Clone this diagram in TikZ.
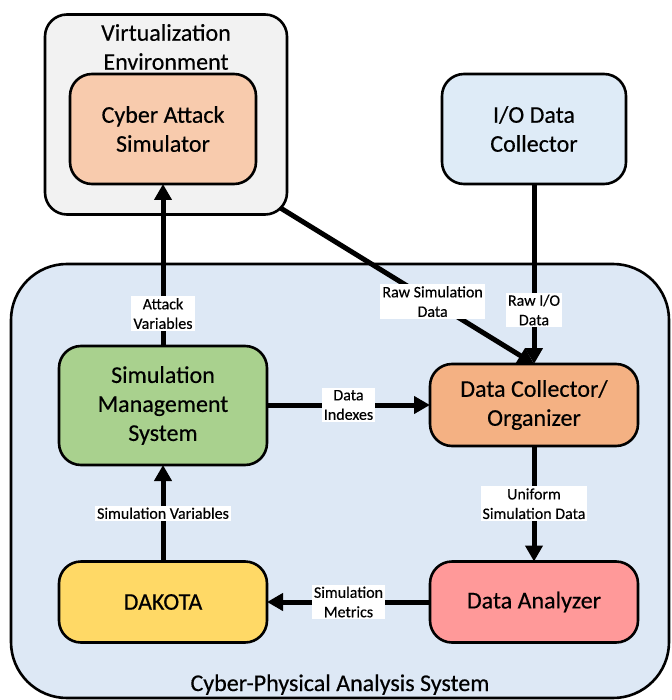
\documentclass[tikz,border=0pt]{standalone}
\usepackage{fontspec}
\setmainfont{Carlito}[UprightFeatures={FakeBold=0.35}]
\usetikzlibrary{arrows.meta,calc}

\definecolor{virtfill}{HTML}{F2F2F2}
\definecolor{casfill}{HTML}{F8CBAD}
\definecolor{iofill}{HTML}{DEEBF7}
\definecolor{bigfill}{HTML}{DDE8F5}
\definecolor{smsfill}{HTML}{A9D18E}
\definecolor{dcofill}{HTML}{F4B183}
\definecolor{dakfill}{HTML}{FFD966}
\definecolor{dafill}{HTML}{FF9999}

\tikzset{
  block/.style={draw=black, line width=2.6pt, rounded corners=22pt,
    align=center, inner sep=0pt, outer sep=0pt,
    font=\fontsize{24}{29}\selectfont},
  flow/.style={line width=5pt,
    -{Triangle[length=16pt,width=17pt]}},
  tag/.style={fill=white, inner sep=2pt, align=center,
    font=\fontsize{16}{19.5}\selectfont}
}

\begin{document}
\begin{tikzpicture}[x=1pt,y=-1pt]
\useasboundingbox (0,0) rectangle (671,700);

% outer containers
\node[block, fill=bigfill, rounded corners=56pt,
  minimum width=658pt, minimum height=434pt] (cpas) at (340,481) {};
\node[anchor=base, font=\fontsize{24}{29}\selectfont] (cpaslabel)
  at (340,691) {Cyber-Physical Analysis System};

\node[block, fill=virtfill, minimum width=242pt, minimum height=200pt]
  (virt) at (166,114.5) {};
\node[align=center, font=\fontsize{24}{29}\selectfont] (virtlabel)
  at (166,47) {Virtualization\\Environment};

% components
\node[block, fill=casfill, minimum width=186pt, minimum height=110pt]
  (cas) at (163,129) {Cyber Attack\\Simulator};
\node[block, fill=iofill, minimum width=184pt, minimum height=110pt]
  (io) at (534,129) {I/O Data\\Collector};
\node[block, fill=smsfill, minimum width=208pt, minimum height=119pt]
  (sms) at (163,405.5) {Simulation\\Management\\System};
\node[block, fill=dcofill, minimum width=208pt, minimum height=82pt]
  (dco) at (534,405) {Data Collector/\\Organizer};
\node[block, fill=dakfill, minimum width=208pt, minimum height=81pt]
  (dak) at (163,602) {DAKOTA};
\node[block, fill=dafill, minimum width=208pt, minimum height=81pt]
  (da) at (534,602) {Data Analyzer};

% start of the diagonal flow on the rounded corner of the virtual environment
\coordinate (virtcorner) at ($(virt.south east)+(-6.5,-6.5)$);

% data flows
\draw[flow] (sms.north) -- node[tag, pos=0.2] {Attack\\Variables} (cas.south);
\draw[flow] (virtcorner) -- node[tag, pos=0.6] {Raw Simulation\\Data} (dco.north);
\draw[flow] (io.south) -- node[tag, pos=0.7] {Raw I/O\\Data} (dco.north);
\draw[flow] (sms.east |- dco.west) -- node[tag] {Data\\Indexes} (dco.west);
\draw[flow] (dco.south) -- node[tag] {Uniform\\Simulation Data} (da.north);
\draw[flow] (da.west) -- node[tag] {Simulation\\Metrics} (dak.east);
\draw[flow] (dak.north) -- node[tag] {Simulation Variables} (sms.south);
\end{tikzpicture}
\end{document}
